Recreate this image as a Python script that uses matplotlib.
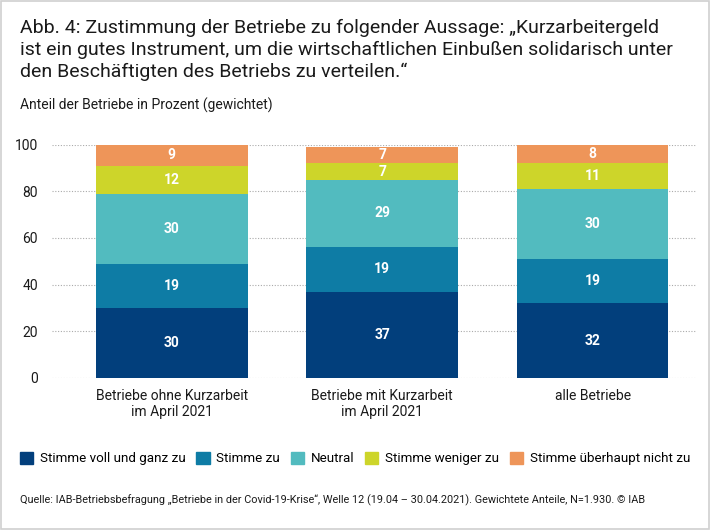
import matplotlib
matplotlib.use("Agg")
import matplotlib.pyplot as plt
from matplotlib.patches import Rectangle

plt.rcParams['font.family'] = ['Roboto', 'DejaVu Sans']

categories = ["Betriebe ohne Kurzarbeit\nim April 2021",
              "Betriebe mit Kurzarbeit\nim April 2021",
              "alle Betriebe"]
series_names = ["Stimme voll und ganz zu", "Stimme zu", "Neutral",
                "Stimme weniger zu", "Stimme überhaupt nicht zu"]
voll = [30, 37, 32]
zu = [19, 19, 19]
neutral = [30, 29, 30]
weniger = [12, 7, 11]
nicht = [9, 7, 8]
colors = ["#023f7c", "#0e7ca5", "#52bbbf", "#cdd52a", "#ee9559"]
yticks = [0, 20, 40, 60, 80, 100]

fig = plt.figure(figsize=(7.1, 5.3), dpi=100)
fig.patches.append(Rectangle((0.002, 0.002), 0.996, 0.996, transform=fig.transFigure,
                             fill=False, edgecolor="#d0d0d0", linewidth=1.2))

fig.text(0.028, 0.965, "Abb. 4: Zustimmung der Betriebe zu folgender Aussage: „Kurzarbeitergeld\n"
         "ist ein gutes Instrument, um die wirtschaftlichen Einbußen solidarisch unter\n"
         "den Beschäftigten des Betriebs zu verteilen.“",
         fontsize=14, va="top", ha="left", color="#1a1a1a", linespacing=1.27)
fig.text(0.028, 0.802, "Anteil der Betriebe in Prozent (gewichtet)", fontsize=10,
         va="center", ha="left", color="#1a1a1a")

ax = fig.add_axes([0.073, 0.287, 0.907, 0.44])
x = range(len(categories))
bottom = [0, 0, 0]
for vals, c in zip([voll, zu, neutral, weniger, nicht], colors):
    ax.bar(x, vals, bottom=bottom, width=0.72, color=c, zorder=3)
    for xi, v, b in zip(x, vals, bottom):
        ax.text(xi, b + v / 2, str(v), ha="center", va="center", color="white",
                fontsize=10, fontweight="semibold", zorder=4)
    bottom = [b + v for b, v in zip(bottom, vals)]

ax.set_xlim(-0.57, 2.49)
ax.set_ylim(0, 100)
ax.set_yticks(yticks)
ax.set_xticks(list(x))
ax.set_xticklabels(categories, fontsize=10, color="#1a1a1a")
ax.tick_params(axis="both", length=0, labelsize=10, colors="#1a1a1a")
ax.tick_params(axis="y", pad=10)
ax.tick_params(axis="x", pad=8)
ax.grid(axis="y", linestyle=(0, (1, 1.5)), color="#aaaaaa", linewidth=0.8, zorder=0)
for s in ax.spines.values():
    s.set_visible(False)

handles = [Rectangle((0, 0), 1, 1, color=c) for c in colors]
fig.legend(handles, series_names, loc="center", bbox_to_anchor=(0.5, 0.135), ncol=5,
           frameon=False, fontsize=9.6, handlelength=1.0, handleheight=1.0,
           handletextpad=0.5, columnspacing=0.8)

fig.text(0.028, 0.056, "Quelle: IAB-Betriebsbefragung „Betriebe in der Covid-19-Krise“, Welle 12 "
         "(19.04 – 30.04.2021). Gewichtete Anteile, N=1.930. © IAB",
         fontsize=7.8, va="center", ha="left", color="#1a1a1a")

fig.savefig("out.png", dpi=100)
